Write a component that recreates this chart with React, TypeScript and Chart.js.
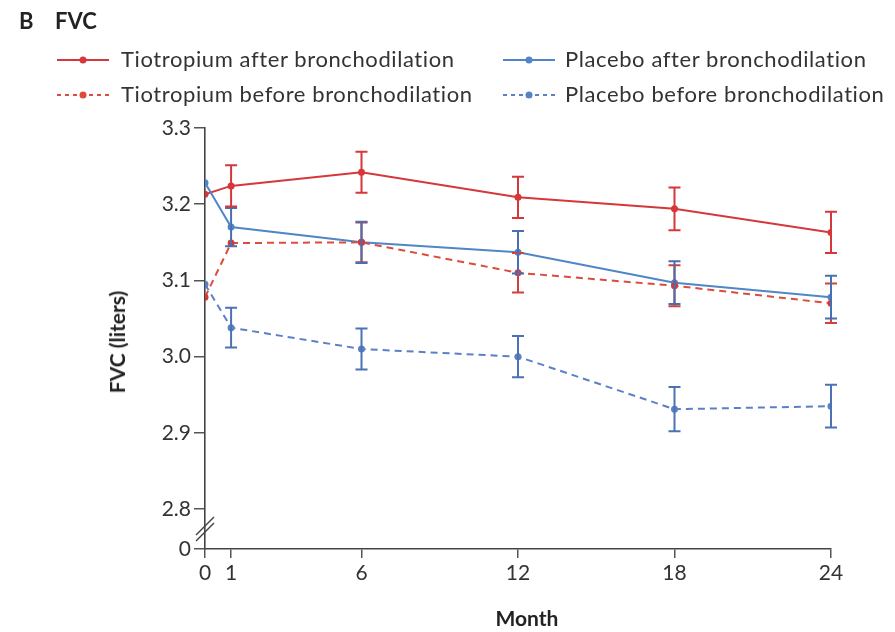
import React, { useEffect, useRef } from "react";
import { Chart, registerables } from "chart.js";

Chart.register(...registerables);

const months = [0, 1, 6, 12, 18, 24];
const yTickValues = [2.8, 2.9, 3.0, 3.1, 3.2, 3.3];
const yBreakLabel = "0";
const yMin = 2.7476;
const yMax = 3.3;

const tioAfter = [3.213, 3.224, 3.242, 3.209, 3.194, 3.163];
const tioAfterErr = [0, 0.027, 0.027, 0.027, 0.028, 0.027];
const placeboAfter = [3.228, 3.170, 3.150, 3.137, 3.097, 3.078];
const placeboAfterErr = [0, 0.025, 0.027, 0.028, 0.028, 0.028];
const tioBefore = [3.078, 3.149, 3.150, 3.110, 3.093, 3.070];
const tioBeforeErr = [0, 0.0, 0.026, 0.026, 0.027, 0.026];
const placeboBefore = [3.095, 3.038, 3.010, 3.000, 2.931, 2.935];
const placeboBeforeErr = [0, 0.026, 0.027, 0.027, 0.029, 0.028];

const legendLabels = [
  "Tiotropium after bronchodilation",
  "Placebo after bronchodilation",
  "Tiotropium before bronchodilation",
  "Placebo before bronchodilation",
];

const RED = "#d6373a";
const RED_DASH = "#dd4b3c";
const BLUE = "#4f86c8";
const BLUE_DASH = "#5a80c6";
const FONT = "Lato, 'Open Sans', sans-serif";

const errorBarPlugin = {
  id: "errorBars",
  afterDatasetsDraw(chart: any) {
    const ctx = chart.ctx;
    const xs = chart.scales.x;
    const ys = chart.scales.y;
    chart.data.datasets.forEach((ds: any) => {
      const errs: number[] = ds.errors || [];
      ctx.save();
      ctx.strokeStyle = ds.errColor || ds.borderColor;
      ctx.lineWidth = 2;
      ds.data.forEach((p: any, i: number) => {
        const e = errs[i];
        if (!e) return;
        const x = xs.getPixelForValue(p.x);
        const y1 = ys.getPixelForValue(p.y + e);
        const y2 = ys.getPixelForValue(p.y - e);
        ctx.beginPath();
        ctx.moveTo(x, y1);
        ctx.lineTo(x, y2);
        ctx.moveTo(x - 6, y1);
        ctx.lineTo(x + 6, y1);
        ctx.moveTo(x - 6, y2);
        ctx.lineTo(x + 6, y2);
        ctx.stroke();
      });
      ctx.restore();
    });
  },
};

const breakPlugin = {
  id: "axisBreak",
  afterDraw(chart: any) {
    const ctx = chart.ctx;
    const ys = chart.scales.y;
    const x = chart.chartArea.left;
    const yA = ys.getPixelForValue(2.8);
    const yB = ys.getPixelForValue(yMin);
    const mid = (yA + yB) / 2;
    ctx.save();
    ctx.strokeStyle = "#444";
    ctx.lineWidth = 1.4;
    [-3, 3].forEach((off) => {
      ctx.beginPath();
      ctx.moveTo(x - 9, mid + off + 9);
      ctx.lineTo(x + 9, mid + off - 9);
      ctx.stroke();
    });
    ctx.restore();
  },
};

function toPts(vals: number[]) {
  return months.map((m, i) => ({ x: m, y: vals[i] }));
}

function LegendSample({ color, dashed }: { color: string; dashed: boolean }) {
  return (
    <svg width={52} height={12} style={{ display: "block" }}>
      <line
        x1={0}
        y1={6}
        x2={52}
        y2={6}
        stroke={color}
        strokeWidth={2}
        strokeDasharray={dashed ? "4 4" : undefined}
      />
      <circle cx={26} cy={6} r={3.5} fill={color} />
    </svg>
  );
}

export default function App() {
  const ref = useRef<HTMLCanvasElement | null>(null);

  useEffect(() => {
    if (!ref.current) return;
    const chart = new Chart(ref.current, {
      type: "line",
      data: {
        datasets: [
          {
            label: legendLabels[3],
            data: toPts(placeboBefore),
            borderColor: BLUE_DASH,
            backgroundColor: BLUE_DASH,
            borderDash: [7, 5],
            errors: placeboBeforeErr,
            errColor: "#4a72b5",
          } as any,
          {
            label: legendLabels[2],
            data: toPts(tioBefore),
            borderColor: RED_DASH,
            backgroundColor: RED,
            borderDash: [7, 5],
            errors: tioBeforeErr,
            errColor: "#d2413a",
          } as any,
          {
            label: legendLabels[1],
            data: toPts(placeboAfter),
            borderColor: BLUE,
            backgroundColor: BLUE,
            errors: placeboAfterErr,
            errColor: "#4a6fae",
          } as any,
          {
            label: legendLabels[0],
            data: toPts(tioAfter),
            borderColor: RED,
            backgroundColor: RED,
            errors: tioAfterErr,
            errColor: RED,
          } as any,
        ],
      },
      options: {
        responsive: false,
        animation: false,
        layout: { padding: { left: 0, top: 128, right: 64, bottom: 0 } },
        elements: {
          line: { borderWidth: 2, tension: 0 },
          point: { radius: 3.5, borderWidth: 0, hoverRadius: 3.5 },
        },
        plugins: {
          legend: { display: false },
          tooltip: { enabled: false },
        },
        scales: {
          x: {
            type: "linear",
            min: 0,
            max: 24,
            afterBuildTicks: (s: any) => {
              s.ticks = months.map((v) => ({ value: v }));
            },
            afterFit: (s: any) => {
              s.height = 83;
            },
            grid: {
              drawOnChartArea: false,
              drawTicks: true,
              tickLength: 9,
              color: "#555",
              lineWidth: 1.5,
            },
            border: { color: "#444", width: 1.6 },
            ticks: {
              color: "#333",
              font: { family: FONT, size: 21 },
              padding: 3,
              autoSkip: false,
              maxRotation: 0,
              callback: (v: any) => String(v),
            },
          },
          y: {
            type: "linear",
            min: yMin,
            max: yMax,
            afterBuildTicks: (s: any) => {
              s.ticks = [yMin, ...yTickValues].map((v) => ({ value: v }));
            },
            afterFit: (s: any) => {
              s.width = 205;
            },
            grid: {
              drawOnChartArea: false,
              drawTicks: true,
              tickLength: 11,
              color: "#555",
              lineWidth: 1.5,
            },
            border: { color: "#444", width: 1.6 },
            ticks: {
              color: "#333",
              font: { family: FONT, size: 21 },
              padding: 3,
              autoSkip: false,
              callback: (v: any) =>
                Number(v) < 2.79 ? yBreakLabel : Number(v).toFixed(1),
            },
          },
        },
      } as any,
      plugins: [errorBarPlugin, breakPlugin],
    });
    return () => chart.destroy();
  }, []);

  const textStyle: React.CSSProperties = {
    position: "absolute",
    fontFamily: FONT,
    fontSize: 22,
    letterSpacing: "0.6px",
    color: "#333",
    whiteSpace: "nowrap",
    lineHeight: "26px",
  };

  const legendItems = [
    { label: legendLabels[0], color: RED, dashed: false, lx: 57, tx: 121, y: 60 },
    { label: legendLabels[1], color: BLUE, dashed: false, lx: 503, tx: 565, y: 60 },
    { label: legendLabels[2], color: RED_DASH, dashed: true, lx: 57, tx: 121, y: 95 },
    { label: legendLabels[3], color: BLUE_DASH, dashed: true, lx: 503, tx: 565, y: 95 },
  ];

  return (
    <div
      style={{
        position: "absolute",
        left: 0,
        top: 0,
        width: 895,
        height: 632,
        background: "#fff",
        overflow: "hidden",
      }}
    >
      <canvas ref={ref} width={895} height={632} style={{ position: "absolute", left: 0, top: 0 }} />
      <div style={{ ...textStyle, left: 19, top: 8, fontWeight: 700, color: "#222", fontSize: 22, letterSpacing: 0 }}>B</div>
      <div style={{ ...textStyle, left: 55, top: 8, fontWeight: 700, color: "#222", fontSize: 22, letterSpacing: 0 }}>FVC</div>
      {legendItems.map((it) => (
        <React.Fragment key={it.label}>
          <div style={{ position: "absolute", left: it.lx, top: it.y - 6 }}>
            <LegendSample color={it.color} dashed={it.dashed} />
          </div>
          <div style={{ ...textStyle, left: it.tx, top: it.y - 14 }}>{it.label}</div>
        </React.Fragment>
      ))}
      <div
        style={{
          ...textStyle,
          left: 117,
          top: 342,
          fontWeight: 700,
          color: "#222",
          fontSize: 21,
          letterSpacing: 0,
          transform: "translate(-50%, -50%) rotate(-90deg)",
        }}
      >
        FVC (liters)
      </div>
      <div
        style={{
          ...textStyle,
          left: 527,
          top: 618,
          fontWeight: 700,
          color: "#222",
          fontSize: 21,
          letterSpacing: 0,
          transform: "translate(-50%, -50%)",
        }}
      >
        Month
      </div>
    </div>
  );
}
